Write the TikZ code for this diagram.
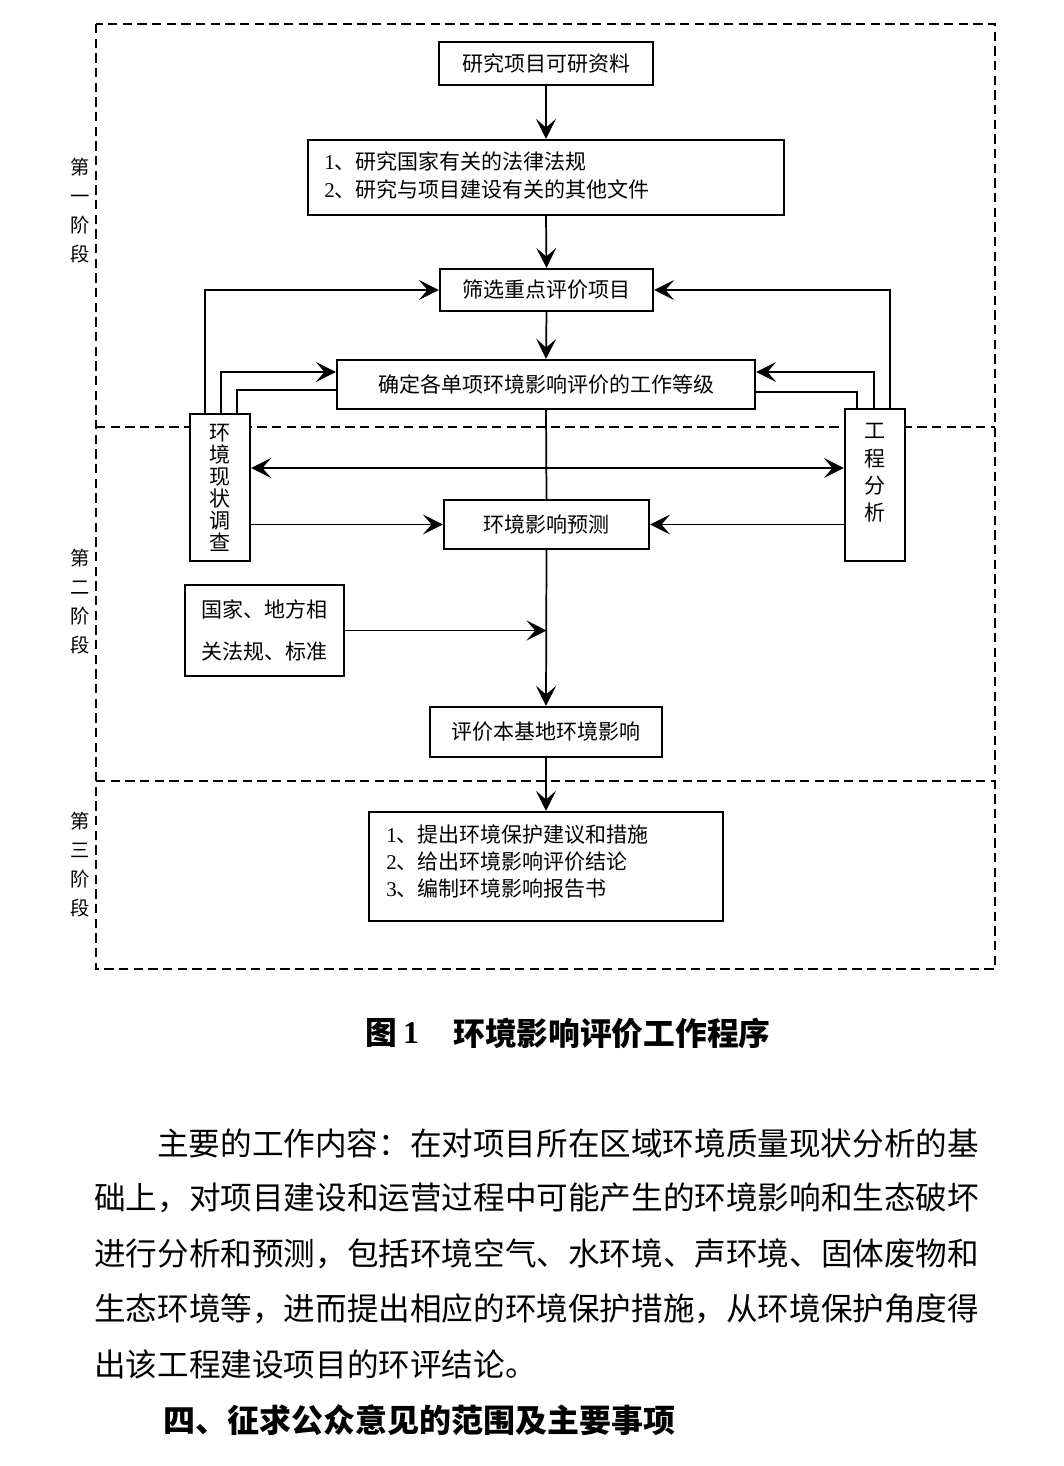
\documentclass[tikz,border=0pt]{standalone}
\usepackage{fontspec}
\setmainfont{Noto Sans CJK SC}
\newfontfamily\tnr{Liberation Serif}
\usetikzlibrary{arrows.meta,calc}
\begin{document}
\begin{tikzpicture}[x=0.75pt,y=-0.75pt,
  box/.style={draw,line width=1.7pt,fill=white,inner sep=0pt,font=\fontsize{15.75}{18}\selectfont},
  btext/.style={inner sep=0pt,align=left,font=\fontsize{15.75}{20.5}\selectfont},
  conn/.style={line width=1.3pt},
  arr/.style={conn,-{Stealth[length=15pt,width=15pt,inset=6.5pt]}},
  darr/.style={conn,{Stealth[length=15pt,width=15pt,inset=6.5pt]}-{Stealth[length=15pt,width=15pt,inset=6.5pt]}},
  dashline/.style={line width=1.6pt,dash pattern=on 7pt off 4pt},
  stagelabel/.style={inner sep=0pt,align=center,font=\fontsize{14.5}{21.75}\selectfont},
  body/.style={inner sep=0pt,anchor=west,font=\fontsize{23.7}{28}\selectfont},
  captext/.style={inner sep=0pt,font=\fontsize{23.8}{28}\selectfont\bfseries}
]
\useasboundingbox (0,0) rectangle (1063,1466);

% stage frame
\draw[dashline] (96,24) rectangle (995,969);
\draw[dashline] (96,427) -- (995,427);
\draw[dashline] (96,781) -- (995,781);

\node[stagelabel] (s1) at (80,210.5) {第\\一\\阶\\段};
\node[stagelabel] (s2) at (80,601.5) {第\\二\\阶\\段};
\node[stagelabel] (s3) at (80,864.5) {第\\三\\阶\\段};

% boxes
\node[box,minimum width=160.5pt,minimum height=32.25pt] (b1) at (546,63.5) {研究项目可研资料};
\node[box,minimum width=357pt,minimum height=56.25pt] (b2) at (546,177.5) {};
\node[btext,anchor=west] (b2t) at (324,175.5) {{\tnr 1}、研究国家有关的法律法规\\{\tnr 2}、研究与项目建设有关的其他文件};
\node[box,minimum width=159.75pt,minimum height=31.5pt] (b3) at (546.5,290) {筛选重点评价项目};
\node[box,minimum width=313.5pt,minimum height=36.75pt] (b4) at (546,384.5) {确定各单项环境影响评价的工作等级};

\draw[arr] (b1.south) -- (b2.north);
\draw[arr] (b2.south) -- (b3.north);
\draw[arr] (b3.south) -- (b4.north);

\node[box,minimum width=45pt,minimum height=110.25pt,align=center,font=\fontsize{15.75}{16.5}\selectfont] (env) at (220,487.5) {环\\境\\现\\状\\调\\查};
\node[box,minimum width=45pt,minimum height=114pt] (eng) at (875,485) {};
\node[inner sep=0pt,align=center,font=\fontsize{15.75}{20.6}\selectfont] (engt) at (875,473) {工\\程\\分\\析};

\node[box,minimum width=153.75pt,minimum height=36.75pt] (pred) at (546.5,524.5) {环境影响预测};
\node[box,minimum width=119.25pt,minimum height=68.25pt,align=center,font=\fontsize{15.75}{31.5}\selectfont] (law) at (264.5,630.5) {国家、地方相\\关法规、标准};
\node[box,minimum width=174pt,minimum height=37.5pt] (eval) at (546,732) {评价本基地环境影响};
\node[box,minimum width=265.5pt,minimum height=81.75pt] (fin) at (546,866.5) {};
\node[btext,anchor=west] (fint) at (386,861.5) {{\tnr 1}、提出环境保护建议和措施\\{\tnr 2}、给出环境影响评价结论\\{\tnr 3}、编制环境影响报告书};

\draw[conn] (b4.south) -- (pred.north);
\draw[arr] (pred.south) -- (eval.north);
\draw[arr] (eval.south) -- (fin.north);
\draw[arr] (law.east) -- (law.east -| pred.south);
\draw[arr] (env.east |- pred.west) -- (pred.west);
\draw[arr] (eng.west |- pred.east) -- (pred.east);
\coordinate (dbl) at (546,468);
\draw[darr] (env.east |- dbl) -- (eng.west |- dbl);

% left feeders
\draw[arr] ([xshift=-11.25pt]env.north) |- (b3.west);
\draw[arr] ([xshift=0.75pt]env.north) |- ([yshift=9.4pt]b4.west);
\draw[conn] ([xshift=12.75pt]env.north) |- ([yshift=-4.1pt]b4.west);
% right feeders
\draw[arr] ([xshift=11.25pt]eng.north) |- (b3.east);
\draw[arr] ([xshift=-0.75pt]eng.north) |- ([yshift=9.4pt]b4.east);
\draw[conn] ([xshift=-13.5pt]eng.north) |- ([yshift=-5.6pt]b4.east);

% caption
\node[captext] (capa) at (381,1033) {图};
\node[captext] (capb) at (411,1033) {\tnr\bfseries 1};
\node[captext,anchor=west] (capc) at (453,1033) {环境影响评价工作程序};

% body text
\node[body] (p1) at (157,1143) {主要的工作内容：在对项目所在区域环境质量现状分析的基};
\node[body] (p2) at (94,1198) {础上，对项目建设和运营过程中可能产生的环境影响和生态破坏};
\node[body] (p3) at (94,1254) {进行分析和预测，包括环境空气、水环境、声环境、固体废物和};
\node[body] (p4) at (94,1309) {生态环境等，进而提出相应的环境保护措施，从环境保护角度得};
\node[body] (p5) at (94,1364) {出该工程建设项目的环评结论。};
\node[body,font=\fontsize{24}{28}\selectfont\bfseries] (h4) at (163,1420) {四、征求公众意见的范围及主要事项};
\end{tikzpicture}
\end{document}
